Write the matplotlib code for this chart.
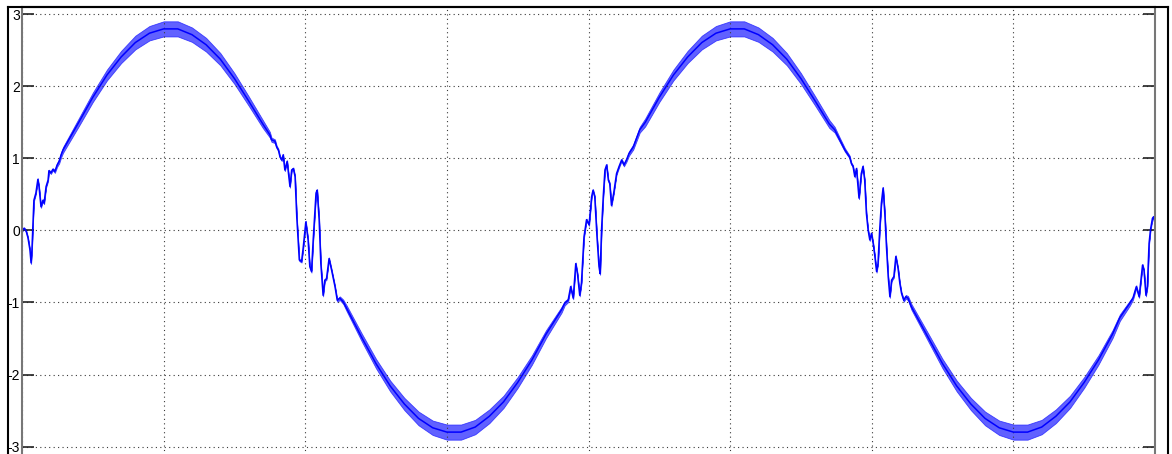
import numpy as np
import matplotlib
matplotlib.use("Agg")
import matplotlib.pyplot as plt
from matplotlib.lines import Line2D

t_ms = [
    # start transient
    0.00, 0.07, 0.14, 0.21, 0.28, 0.32, 0.35, 0.39, 0.42, 0.49, 0.56, 0.60, 0.67,
    0.74, 0.78, 0.85, 0.92, 0.95, 1.02, 1.09, 1.16, 1.24, 1.31, 1.38, 1.45,
    # first crest
    2.0, 2.5, 3.0, 3.5, 4.0, 4.5, 5.0, 5.5, 6.0, 6.5, 7.0, 7.5, 8.0, 8.5,
    # falling transient
    8.75, 8.81, 8.93, 8.99, 9.05, 9.11, 9.17, 9.22, 9.28, 9.36, 9.46, 9.52, 9.58,
    9.64, 9.70, 9.79, 9.87, 9.93, 10.02, 10.10, 10.16, 10.22, 10.28, 10.38, 10.42,
    10.49, 10.55, 10.63, 10.69, 10.75, 10.84, 10.93, 11.05, 11.13, 11.22, 11.34, 11.46,
    # first trough
    12.0, 12.5, 13.0, 13.5, 14.0, 14.5, 15.0, 15.5, 16.0, 16.5, 17.0, 17.5, 18.0, 18.5,
    # rising transient
    19.05, 19.16, 19.28, 19.37, 19.46, 19.55, 19.61, 19.69, 19.75, 19.84, 19.93, 20.02,
    20.11, 20.16, 20.22, 20.30, 20.37, 20.41, 20.46, 20.52, 20.58, 20.64, 20.70, 20.75,
    20.81, 20.89, 20.99, 21.08, 21.17, 21.25, 21.34, 21.43, 21.58, 21.81,
    # second crest
    22.0, 22.5, 23.0, 23.5, 24.0, 24.5, 25.0, 25.5, 26.0, 26.5, 27.0, 27.5, 28.0, 28.5,
    # falling transient
    28.69, 28.87, 29.05, 29.22, 29.28, 29.34, 29.40, 29.46, 29.55, 29.63, 29.69, 29.75,
    29.81, 29.87, 29.93, 29.99, 30.05, 30.11, 30.17, 30.22, 30.28, 30.34, 30.40, 30.46,
    30.52, 30.58, 30.64, 30.70, 30.78, 30.85, 30.93, 30.99, 31.05, 31.13, 31.20, 31.28, 31.40,
    # second trough
    32.0, 32.5, 33.0, 33.5, 34.0, 34.5, 35.0, 35.5, 36.0, 36.5, 37.0, 37.5, 38.0, 38.5, 38.76,
    # end transient
    39.11, 39.22, 39.34, 39.44, 39.56, 39.61, 39.68, 39.73, 39.79, 39.84, 39.91, 39.95, 40.00,
]

volts = [
    0.00, 0.03, 0.00, -0.10, -0.27, -0.45, -0.27, 0.14, 0.42, 0.52, 0.71, 0.61, 0.33,
    0.42, 0.38, 0.61, 0.70, 0.83, 0.80, 0.85, 0.82, 0.91, 0.96, 1.05, 1.12,
    1.50, 1.85, 2.16, 2.41, 2.61, 2.74, 2.80, 2.80, 2.72, 2.58, 2.38, 2.11, 1.80, 1.48,
    1.33, 1.26, 1.24, 1.16, 1.12, 1.02, 0.98, 1.05, 0.84, 0.96, 0.61, 0.84, 0.86,
    0.75, 0.19, -0.41, -0.43, -0.23, 0.12, -0.13, -0.50, -0.57, -0.13, 0.52, 0.56,
    0.15, -0.46, -0.90, -0.69, -0.67, -0.39, -0.55, -0.78, -0.97, -0.94, -0.99, -1.08,
    -1.49, -1.85, -2.16, -2.41, -2.61, -2.74, -2.80, -2.80, -2.73, -2.58, -2.38, -2.11, -1.80, -1.44,
    -1.10, -1.01, -0.97, -0.78, -0.94, -0.46, -0.60, -0.90, -0.73, -0.09, 0.15, 0.08,
    0.47, 0.56, 0.47, -0.09, -0.50, -0.60, 0.01, 0.47, 0.84, 0.91, 0.70, 0.65,
    0.35, 0.52, 0.79, 0.89, 0.98, 0.91, 0.98, 1.07, 1.16, 1.40,
    1.50, 1.85, 2.16, 2.41, 2.61, 2.74, 2.80, 2.80, 2.72, 2.58, 2.38, 2.11, 1.80, 1.48,
    1.40, 1.26, 1.12, 1.02, 0.93, 0.89, 0.75, 0.86, 0.45, 0.79, 0.89, 0.70,
    0.24, 0.01, -0.13, -0.04, -0.18, -0.36, -0.57, -0.46, 0.01, 0.38, 0.59, 0.24,
    -0.23, -0.64, -0.92, -0.69, -0.64, -0.36, -0.53, -0.73, -0.87, -0.97, -0.92, -0.94, -1.06,
    -1.49, -1.85, -2.16, -2.41, -2.61, -2.74, -2.80, -2.80, -2.73, -2.58, -2.38, -2.11, -1.80, -1.44, -1.21,
    -1.01, -0.94, -0.78, -0.92, -0.48, -0.55, -0.90, -0.78, -0.18, 0.01, 0.17, 0.19, 0.10,
]

# peak-to-peak height of the switching ripple band at each point
ripple_pp = [
    0.03, 0.03, 0.03, 0.03, 0.03, 0.03, 0.03, 0.03, 0.03, 0.03, 0.03, 0.03, 0.03,
    0.03, 0.03, 0.03, 0.03, 0.03, 0.03, 0.03, 0.04, 0.05, 0.06, 0.07, 0.08,
    0.11, 0.13, 0.15, 0.17, 0.19, 0.20, 0.21, 0.21, 0.20, 0.19, 0.17, 0.15, 0.13, 0.11,
    0.08, 0.06, 0.05, 0.04, 0.03, 0.03, 0.03, 0.03, 0.03, 0.03, 0.03, 0.03, 0.03,
    0.03, 0.03, 0.03, 0.03, 0.03, 0.03, 0.03, 0.03, 0.03, 0.03, 0.03, 0.03,
    0.03, 0.03, 0.03, 0.03, 0.03, 0.03, 0.03, 0.03, 0.04, 0.05, 0.06, 0.08,
    0.11, 0.13, 0.15, 0.17, 0.19, 0.20, 0.21, 0.21, 0.20, 0.19, 0.17, 0.15, 0.13, 0.11,
    0.08, 0.06, 0.05, 0.04, 0.03, 0.03, 0.03, 0.03, 0.03, 0.03, 0.03, 0.03,
    0.03, 0.03, 0.03, 0.03, 0.03, 0.03, 0.03, 0.03, 0.03, 0.03, 0.03, 0.03,
    0.03, 0.03, 0.03, 0.03, 0.03, 0.04, 0.05, 0.06, 0.07, 0.08,
    0.11, 0.13, 0.15, 0.17, 0.19, 0.20, 0.21, 0.21, 0.20, 0.19, 0.17, 0.15, 0.13, 0.11,
    0.08, 0.06, 0.05, 0.04, 0.03, 0.03, 0.03, 0.03, 0.03, 0.03, 0.03, 0.03,
    0.03, 0.03, 0.03, 0.03, 0.03, 0.03, 0.03, 0.03, 0.03, 0.03, 0.03, 0.03,
    0.03, 0.03, 0.03, 0.03, 0.03, 0.03, 0.03, 0.03, 0.03, 0.04, 0.05, 0.06, 0.08,
    0.11, 0.13, 0.15, 0.17, 0.19, 0.20, 0.21, 0.21, 0.20, 0.19, 0.17, 0.15, 0.13, 0.11, 0.09,
    0.07, 0.05, 0.04, 0.03, 0.03, 0.03, 0.03, 0.03, 0.03, 0.03, 0.03, 0.03, 0.03,
]

y_ticks = [-3, -2, -1, 0, 1, 2, 3]
x_ticks = [0, 5, 10, 15, 20, 25, 30, 35, 40]

assert len(t_ms) == len(volts) == len(ripple_pp)

t = np.array(t_ms)
v = np.array(volts)
w = np.array(ripple_pp)

W, H = 1172, 454
fig = plt.figure(figsize=(W / 100, H / 100), dpi=100)
ax = fig.add_axes([22 / W, -1 / H, 1133 / W, 448 / H])

# ripple band, then the trace itself
ax.fill_between(t, v - w / 2, v + w / 2, color="#3a3aff", lw=0.6,
                edgecolor="#2020ff", alpha=0.8)
ax.plot(t, v, color="#0000ff", lw=1.1)

ax.set_xlim(0, 40)
ax.set_ylim(-3.118, 3.104)
ax.set_xticks(x_ticks)
ax.set_yticks(y_ticks)
ax.set_xticklabels([])
ax.set_yticklabels([str(y) for y in y_ticks], family="Liberation Sans", fontsize=10)

ax.grid(True, color="#3a3a3a", linestyle=(0, (1, 3)), linewidth=0.8)
ax.tick_params(axis="y", direction="in", length=8.5, width=1.2, color="#222222",
               left=True, right=True, pad=1.5)
ax.tick_params(axis="x", length=0)

for side in ["left", "right"]:
    ax.spines[side].set_color("#777777")
    ax.spines[side].set_linewidth(1.5)
ax.spines["top"].set_color("black")
ax.spines["top"].set_linewidth(1.5)
ax.spines["bottom"].set_visible(False)

# outer window frame
fx0, fx1, fy = 8 / W, 1168 / W, 1 - 7 / H
fig.add_artist(Line2D([fx0, fx1], [fy, fy], color="black", lw=1.5))
fig.add_artist(Line2D([fx0, fx0], [0, fy], color="black", lw=1.5))
fig.add_artist(Line2D([fx1, fx1], [0, fy], color="black", lw=1.5))

fig.savefig("out.png", dpi=100)
